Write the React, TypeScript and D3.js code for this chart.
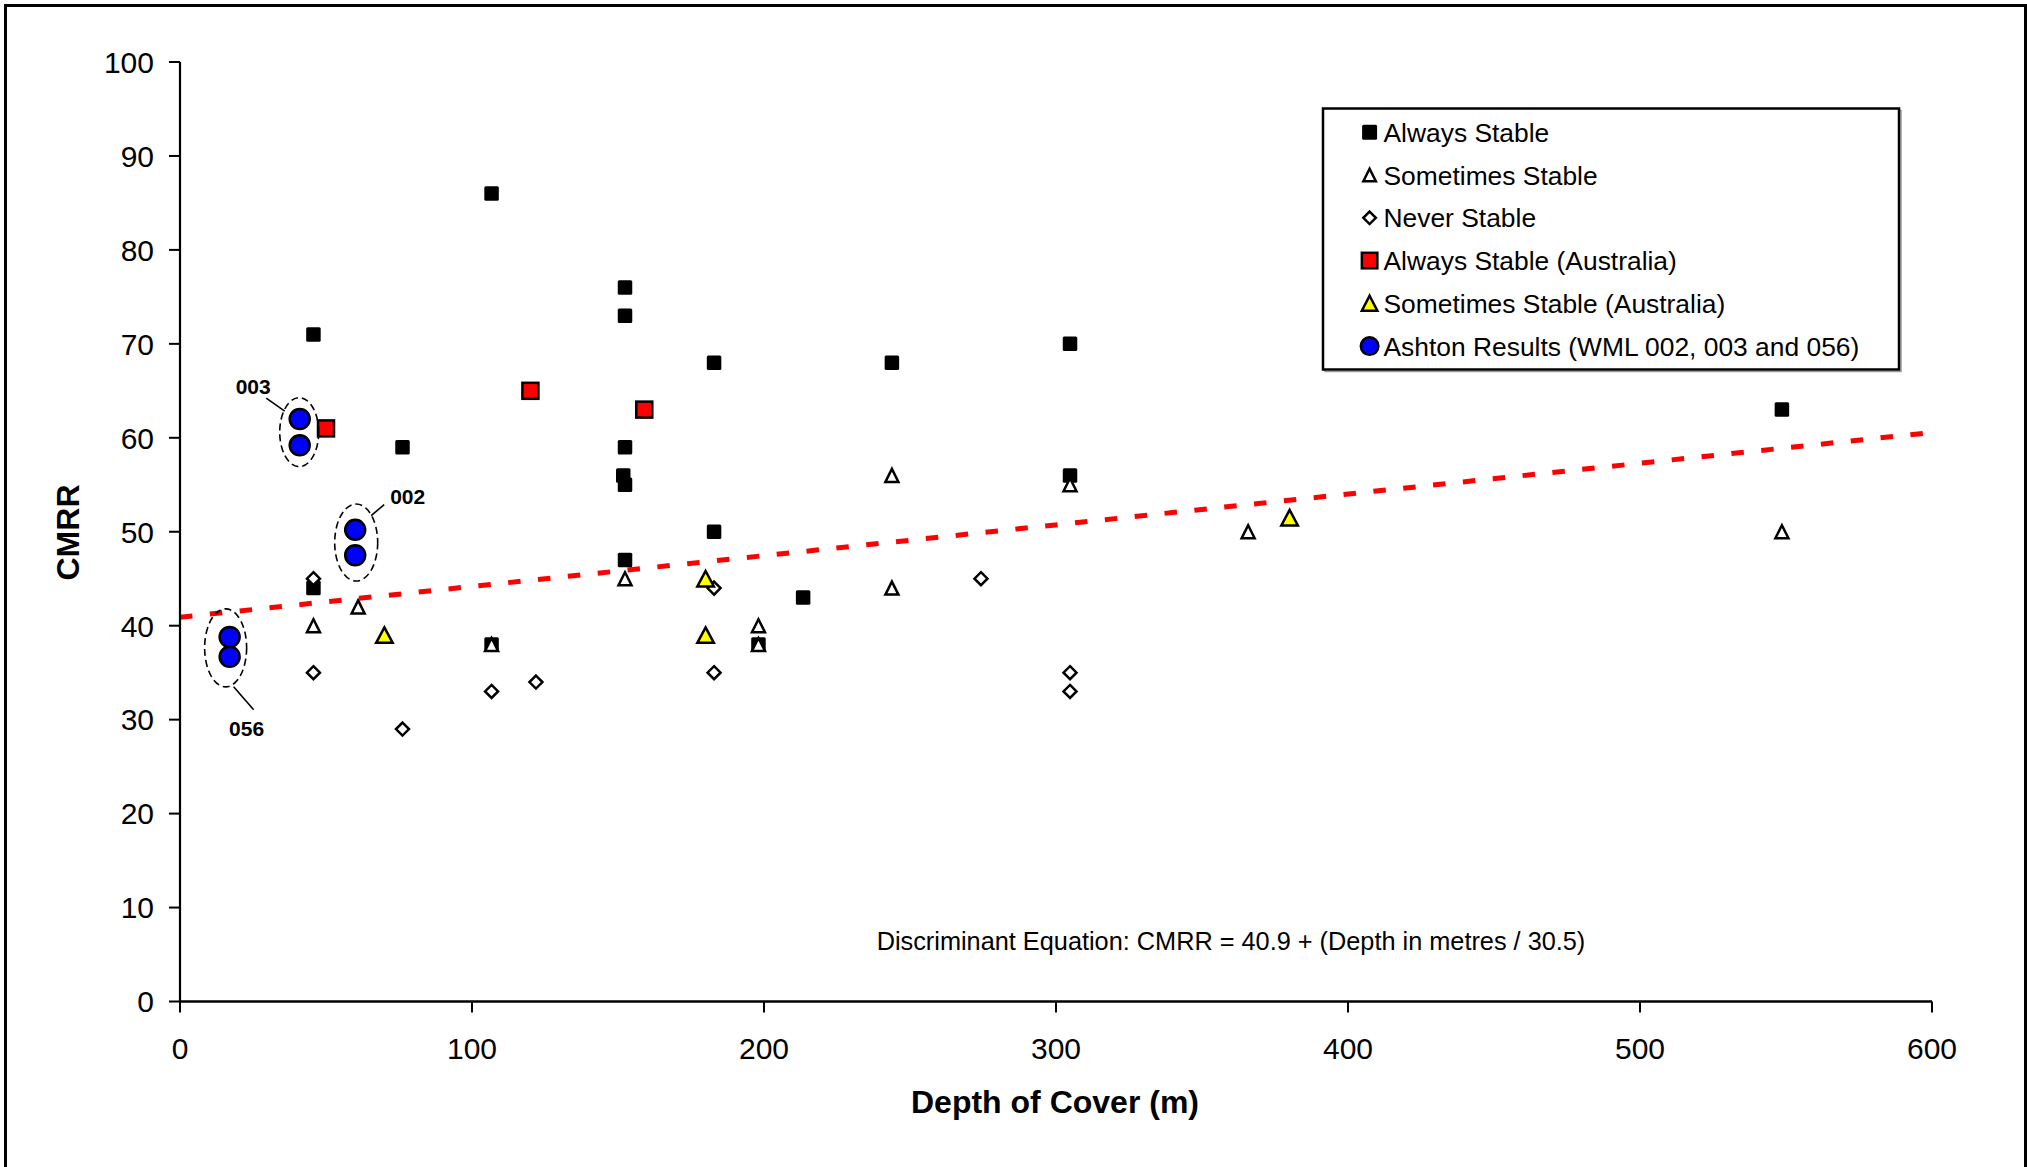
import React from 'react';
import * as d3 from 'd3';

// ---------- data ----------
const xTicks = [0, 100, 200, 300, 400, 500, 600];
const yTicks = [0, 10, 20, 30, 40, 50, 60, 70, 80, 90, 100];

const alwaysStable = [
  { depth: 45.7, cmrr: 71 }, { depth: 45.7, cmrr: 44 }, { depth: 76.2, cmrr: 59 },
  { depth: 106.7, cmrr: 86 }, { depth: 106.7, cmrr: 38 }, { depth: 152.4, cmrr: 76 },
  { depth: 152.4, cmrr: 73 }, { depth: 152.4, cmrr: 59 }, { depth: 151.8, cmrr: 56 },
  { depth: 152.4, cmrr: 55 }, { depth: 152.4, cmrr: 47 }, { depth: 182.9, cmrr: 68 },
  { depth: 182.9, cmrr: 50 }, { depth: 198.1, cmrr: 38 }, { depth: 213.4, cmrr: 43 },
  { depth: 243.8, cmrr: 68 }, { depth: 304.8, cmrr: 70 }, { depth: 304.8, cmrr: 56 },
  { depth: 548.6, cmrr: 63 },
];
const sometimesStable = [
  { depth: 45.7, cmrr: 40 }, { depth: 61, cmrr: 42 }, { depth: 106.7, cmrr: 38 },
  { depth: 152.4, cmrr: 45 }, { depth: 198.1, cmrr: 40 }, { depth: 198.1, cmrr: 38 },
  { depth: 243.8, cmrr: 56 }, { depth: 243.8, cmrr: 44 }, { depth: 304.8, cmrr: 55 },
  { depth: 365.8, cmrr: 50 }, { depth: 548.6, cmrr: 50 },
];
const neverStable = [
  { depth: 45.7, cmrr: 45 }, { depth: 45.7, cmrr: 35 }, { depth: 76.2, cmrr: 29 },
  { depth: 106.7, cmrr: 33 }, { depth: 121.9, cmrr: 34 }, { depth: 182.9, cmrr: 44 },
  { depth: 182.9, cmrr: 35 }, { depth: 274.3, cmrr: 45 }, { depth: 304.8, cmrr: 35 },
  { depth: 304.8, cmrr: 33 },
];
const alwaysStableAus = [
  { depth: 50, cmrr: 61 }, { depth: 120, cmrr: 65 }, { depth: 159, cmrr: 63 },
];
const sometimesStableAus = [
  { depth: 70, cmrr: 39 }, { depth: 180, cmrr: 39 }, { depth: 180, cmrr: 45 }, { depth: 380, cmrr: 51.5 },
];
const ashton = [
  { depth: 41, cmrr: 62, well: '003' }, { depth: 41, cmrr: 59.2, well: '003' },
  { depth: 60, cmrr: 50.2, well: '002' }, { depth: 60, cmrr: 47.5, well: '002' },
  { depth: 17, cmrr: 38.8, well: '056' }, { depth: 17, cmrr: 36.7, well: '056' },
];
const wells = ['003', '002', '056'];

const trendIntercept = 40.9;
const trendDivisor = 30.5;
const trendDomain = [0, 600];

const legendLabels = [
  'Always Stable',
  'Sometimes Stable',
  'Never Stable',
  'Always Stable (Australia)',
  'Sometimes Stable (Australia)',
  'Ashton Results (WML 002, 003 and 056)',
];
const equationText = 'Discriminant Equation: CMRR = 40.9 + (Depth in metres / 30.5)';
const xTitle = 'Depth of Cover (m)';
const yTitle = 'CMRR';

// ---------- layout ----------
const W = 2027;
const H = 1167;
const FONT = '"Liberation Sans", Arial, Helvetica, sans-serif';

const triPath = (cx: number, cy: number, w: number, h: number) =>
  `M${cx},${cy - h / 2}L${cx + w / 2},${cy + h / 2}L${cx - w / 2},${cy + h / 2}Z`;
const diaPath = (cx: number, cy: number, w: number, h: number) =>
  `M${cx},${cy - h / 2}L${cx + w / 2},${cy}L${cx},${cy + h / 2}L${cx - w / 2},${cy}Z`;

type Kind = 'sq' | 'tri' | 'dia' | 'redsq' | 'yeltri' | 'circ';

function Marker({ kind, cx, cy, legend }: { kind: Kind; cx: number; cy: number; legend?: boolean }) {
  switch (kind) {
    case 'sq': {
      const s = legend ? 15 : 14.5;
      return <rect x={cx - s / 2} y={cy - s / 2} width={s} height={s} rx={1.5} fill="#000" />;
    }
    case 'tri': {
      const w = legend ? 12.5 : 13, h = legend ? 12.5 : 13;
      return <path d={triPath(cx, cy, w, h)} fill="#fff" stroke="#000" strokeWidth={2.5} strokeLinejoin="miter" />;
    }
    case 'dia': {
      const s = legend ? 12.5 : 13;
      return <path d={diaPath(cx, cy, s, s)} fill="#fff" stroke="#000" strokeWidth={2.5} />;
    }
    case 'redsq': {
      const s = legend ? 15.5 : 16;
      return <rect x={cx - s / 2} y={cy - s / 2} width={s} height={s} fill="#ff0000" stroke="#000" strokeWidth={2.5} />;
    }
    case 'yeltri': {
      const w = legend ? 15.5 : 16.5, h = legend ? 15 : 15.5;
      return <path d={triPath(cx, cy, w, h)} fill="#ffff00" stroke="#000" strokeWidth={2.5} />;
    }
    case 'circ': {
      const r = legend ? 8.8 : 10;
      return <circle cx={cx} cy={cy} r={r} fill="#0000ff" stroke="#000" strokeWidth={2.5} />;
    }
  }
  return null;
}

export default function App() {
  const x = d3.scaleLinear().domain([0, 600]).range([180, 1932]);
  const y = d3.scaleLinear().domain([0, 100]).range([1001.5, 62]);

  const trendLine = d3
    .line<number>()
    .x((d) => x(d))
    .y((d) => y(trendIntercept + d / trendDivisor));

  const series: { kind: Kind; data: { depth: number; cmrr: number }[] }[] = [
    { kind: 'sq', data: alwaysStable },
    { kind: 'tri', data: sometimesStable },
    { kind: 'dia', data: neverStable },
    { kind: 'redsq', data: alwaysStableAus },
    { kind: 'yeltri', data: sometimesStableAus },
    { kind: 'circ', data: ashton },
  ];
  const legendKinds: Kind[] = ['sq', 'tri', 'dia', 'redsq', 'yeltri', 'circ'];

  // annotation geometry (pixel offsets from each pair's centre)
  const annot: Record<string, { ox: number; oy: number; rx: number; ry: number; l1: [number, number]; l2: [number, number]; t: [number, number] }> = {
    '003': { ox: -0.5, oy: 0, rx: 19.5, ry: 34.5, l1: [-33, -34], l2: [-14.5, -21], t: [-46, -38] },
    '002': { ox: 1, oy: 0, rx: 21.5, ry: 38.5, l1: [28, -38], l2: [15, -27], t: [51.5, -39] },
    '056': { ox: -4, oy: 1, rx: 21, ry: 39, l1: [28, 62], l2: [8, 39], t: [21, 88] },
  };

  const legendX = 1323, legendY = 108.5, legendW = 576, legendH = 261;
  const legendRow0 = 132.3, legendStep = 42.75;

  return (
    <svg
      width={W}
      height={H}
      viewBox={`0 0 ${W} ${H}`}
      style={{ position: 'absolute', left: 0, top: 0, background: '#fff' }}
      fontFamily={FONT}
    >
      <rect x={0} y={0} width={W} height={H} fill="#fff" />
      {/* outer frame */}
      <rect x={5.5} y={5.5} width={2020} height={1180} fill="none" stroke="#000" strokeWidth={3} />

      {/* trend line */}
      <path
        d={trendLine(trendDomain) || ''}
        fill="none"
        stroke="#ff0000"
        strokeWidth={5}
        strokeDasharray="12.5 17.5"
      />

      {/* axes */}
      <line x1={x(0)} x2={x(0)} y1={y(100)} y2={y(0)} stroke="#000" strokeWidth={2.2} />
      <line x1={x(0)} x2={x(600)} y1={y(0)} y2={y(0)} stroke="#000" strokeWidth={2.5} />
      {yTicks.map((t) => (
        <g key={'y' + t}>
          <line x1={x(0) - 11} x2={x(0)} y1={y(t)} y2={y(t)} stroke="#000" strokeWidth={2} />
          <text x={154} y={y(t)} dy="0.36em" textAnchor="end" fontSize={30} fill="#000">
            {t}
          </text>
        </g>
      ))}
      {xTicks.map((t) => (
        <g key={'x' + t}>
          <line x1={x(t)} x2={x(t)} y1={y(0)} y2={y(0) + 11} stroke="#000" strokeWidth={2} />
          <text x={x(t)} y={1059} textAnchor="middle" fontSize={30} fill="#000">
            {t}
          </text>
        </g>
      ))}

      {/* axis titles */}
      <text x={1055} y={1113} textAnchor="middle" fontSize={32} fontWeight="bold" fill="#000">
        {xTitle}
      </text>
      <text
        transform={`translate(79,532.5) rotate(-90)`}
        textAnchor="middle"
        fontSize={32}
        fontWeight="bold"
        fill="#000"
      >
        {yTitle}
      </text>

      {/* equation */}
      <text x={1231} y={950} textAnchor="middle" fontSize={25.3} fill="#000">
        {equationText}
      </text>

      {/* markers */}
      {series.map((s, si) => (
        <g key={'s' + si}>
          {s.data.map((d, i) => (
            <Marker key={i} kind={s.kind} cx={x(d.depth)} cy={y(d.cmrr)} />
          ))}
        </g>
      ))}

      {/* Ashton annotations */}
      {wells.map((w) => {
        const pts = ashton.filter((d) => d.well === w);
        const cx = x(d3.mean(pts, (d) => d.depth) || 0);
        const cy = y(d3.mean(pts, (d) => d.cmrr) || 0);
        const a = annot[w];
        const ex = cx + a.ox, ey = cy + a.oy;
        return (
          <g key={'a' + w}>
            <ellipse cx={ex} cy={ey} rx={a.rx} ry={a.ry} fill="none" stroke="#000" strokeWidth={1.6} strokeDasharray="7 4" />
            <line x1={ex + a.l1[0]} y1={ey + a.l1[1]} x2={ex + a.l2[0]} y2={ey + a.l2[1]} stroke="#000" strokeWidth={1.6} />
            <text x={ex + a.t[0]} y={ey + a.t[1]} textAnchor="middle" fontSize={21} fontWeight="bold" fill="#000">
              {w}
            </text>
          </g>
        );
      })}

      {/* legend */}
      <rect x={legendX + 2} y={legendY + 2} width={legendW} height={legendH} fill="none" stroke="#999" strokeWidth={1.5} />
      <rect x={legendX} y={legendY} width={legendW} height={legendH} fill="#fff" stroke="#000" strokeWidth={2.5} />
      {legendLabels.map((lab, i) => {
        const cy = legendRow0 + i * legendStep;
        return (
          <g key={'l' + i}>
            <Marker kind={legendKinds[i]} cx={1369.6} cy={cy} legend />
            <text x={1383.5} y={cy} dy="0.36em" fontSize={26.4} fill="#000">
              {lab}
            </text>
          </g>
        );
      })}
    </svg>
  );
}
